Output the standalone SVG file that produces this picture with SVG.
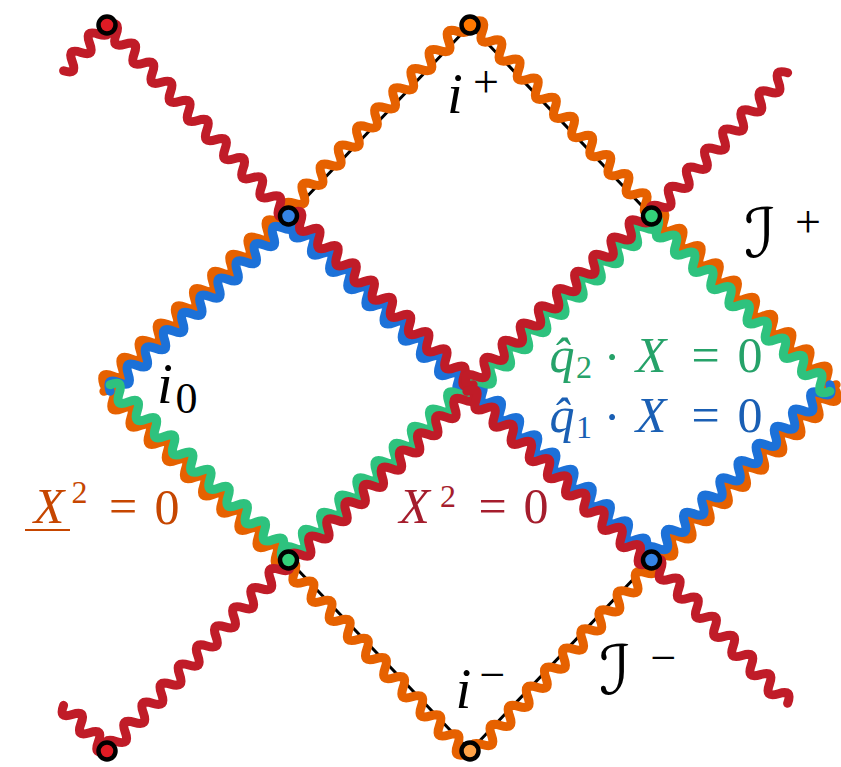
<svg xmlns="http://www.w3.org/2000/svg" xmlns:xlink="http://www.w3.org/1999/xlink" width="841" height="767" viewBox="0 0 841 767">
<style>
.w{fill:none;stroke-width:9;stroke-linecap:round;stroke-linejoin:round}
.or{stroke:#e66100}.bl{stroke:#1c71d8}.gr{stroke:#2ec27e}.rd{stroke:#c01c28}
.dot{stroke:#000;stroke-width:4.5}
text{font-family:"Liberation Serif","DejaVu Serif",serif;text-anchor:middle}
.it{font-style:italic}
.scr{font-family:"DejaVu Serif","DejaVu Sans",serif;font-style:italic}
</style>
<defs>
<path id="wA" d="M0,0 c4.376,-9.33 8.127,-9.33 12.5025,0 s8.127,9.33 12.5025,0 s8.127,-9.33 12.5025,0 s8.127,9.33 12.5025,0 s8.127,-9.33 12.5025,0 s8.127,9.33 12.5025,0 s8.127,-9.33 12.5025,0 s8.127,9.33 12.5025,0 s8.127,-9.33 12.5025,0 s8.127,9.33 12.5025,0 s8.127,-9.33 12.5025,0 s8.127,9.33 12.5025,0 s8.127,-9.33 12.5025,0 s8.127,9.33 12.5025,0 s8.127,-9.33 12.5025,0 s8.127,9.33 12.5025,0 s8.127,-9.33 12.5025,0 s8.127,9.33 12.5025,0 s8.127,-9.33 12.5025,0 s8.127,9.33 12.5025,0"/>
<path id="wB" d="M0,0 c4.611,-9.33 8.563,-9.33 13.174,0 s8.563,9.33 13.174,0 s8.563,-9.33 13.174,0 s8.563,9.33 13.174,0 s8.563,-9.33 13.174,0 s8.563,9.33 13.174,0 s8.563,-9.33 13.174,0 s8.563,9.33 13.174,0 s8.563,-9.33 13.174,0 s8.563,9.33 13.174,0 s8.563,-9.33 13.174,0 s8.563,9.33 13.174,0 s8.563,-9.33 13.174,0 s8.563,9.33 13.174,0 s8.563,-9.33 13.174,0 s8.563,9.33 13.174,0 s8.563,-9.33 13.174,0 s8.563,9.33 13.174,0 s8.563,-9.33 13.174,0 s8.563,9.33 13.174,0"/>
<path id="wC" d="M0,0 c4.611,-9.33 8.563,-9.33 13.174,0 s8.563,9.33 13.174,0 s8.563,-9.33 13.174,0 s8.563,9.33 13.174,0 s8.563,-9.33 13.174,0 s8.563,9.33 13.174,0 s8.563,-9.33 13.174,0 s8.563,9.33 13.174,0 s8.563,-9.33 13.174,0 s8.563,9.33 13.174,0 s8.563,-9.33 13.174,0 s8.563,9.33 13.174,0 s8.563,-9.33 13.174,0 s8.563,9.33 13.174,0 s8.563,-9.33 13.174,0"/>
<path id="wT" d="M0,0 c4.41,-9.33 8.19,-9.33 12.6,0 s8.19,9.33 12.6,0 s8.19,-9.33 12.6,0 s8.19,9.33 12.6,0 s8.19,-9.33 12.6,0"/>
</defs>
<g id="outline">
<polygon points="107,388 288.5,216 470,25 651.5,216 833,388 651.5,560 470,751 288.5,560" fill="none" stroke="#000" stroke-width="3" stroke-linejoin="round"/>
</g>
<g id="connectors">
<g id="orange-lines">
<use xlink:href="#wA" class="w or" transform="matrix(0.72586,-0.68786,0.68786,0.72586,107,388) translate(0,-4.5)"/>
<use xlink:href="#wA" class="w or" transform="matrix(0.72586,0.68786,-0.68786,0.72586,107,388) translate(0,4.5)"/>
<use xlink:href="#wA" class="w or" transform="matrix(0.72586,0.68786,-0.68786,0.72586,651.5,216) translate(0,-4.5)"/>
<use xlink:href="#wA" class="w or" transform="matrix(0.72586,-0.68786,0.68786,0.72586,651.5,560) translate(0,4.5)"/>
<use xlink:href="#wB" class="w or" transform="matrix(0.68886,-0.72491,0.72491,0.68886,288.5,216) translate(0,-4.5)"/>
<use xlink:href="#wB" class="w or" transform="matrix(0.68886,0.72491,-0.72491,0.68886,470,25) translate(0,-4.5)"/>
<use xlink:href="#wB" class="w or" transform="matrix(0.68886,0.72491,-0.72491,0.68886,288.5,560) translate(0,4.5)"/>
<use xlink:href="#wB" class="w or" transform="matrix(0.68886,-0.72491,0.72491,0.68886,470,751) translate(0,4.5)"/>
</g>
<g id="blue-lines">
<use xlink:href="#wA" class="w bl" transform="matrix(0.72586,-0.68786,0.68786,0.72586,107,388) translate(0,4.5)"/>
<use xlink:href="#wA" class="w bl" transform="matrix(0.72586,0.68786,-0.68786,0.72586,288.5,216) translate(0,4.5)"/>
<use xlink:href="#wA" class="w bl" transform="matrix(0.72586,0.68786,-0.68786,0.72586,470,388) translate(0,-4.5)"/>
<use xlink:href="#wA" class="w bl" transform="matrix(0.72586,-0.68786,0.68786,0.72586,651.5,560) translate(0,-4.5)"/>
</g>
<g id="green-lines">
<use xlink:href="#wA" class="w gr" transform="matrix(0.72586,0.68786,-0.68786,0.72586,107,388) translate(0,-4.5)"/>
<use xlink:href="#wA" class="w gr" transform="matrix(0.72586,-0.68786,0.68786,0.72586,288.5,560) translate(0,-4.5)"/>
<use xlink:href="#wA" class="w gr" transform="matrix(0.72586,-0.68786,0.68786,0.72586,470,388) translate(0,4.5)"/>
<use xlink:href="#wA" class="w gr" transform="matrix(0.72586,0.68786,-0.68786,0.72586,651.5,216) translate(0,4.5)"/>
</g>
<g id="red-lines">
<use xlink:href="#wA" class="w rd" transform="matrix(0.72586,0.68786,-0.68786,0.72586,288.5,216) translate(0,-4.5)"/>
<use xlink:href="#wA" class="w rd" transform="matrix(0.72586,-0.68786,0.68786,0.72586,288.5,560) translate(0,4.5)"/>
<use xlink:href="#wA" class="w rd" transform="matrix(0.72586,-0.68786,0.68786,0.72586,470,388) translate(0,-4.5)"/>
<use xlink:href="#wA" class="w rd" transform="matrix(0.72586,0.68786,-0.68786,0.72586,470,388) translate(0,4.5)"/>
<use xlink:href="#wB" class="w rd" transform="matrix(0.68886,0.72491,-0.72491,0.68886,107,25)"/>
<use xlink:href="#wB" class="w rd" transform="matrix(0.68886,-0.72491,0.72491,0.68886,107,751)"/>
<use xlink:href="#wC" class="w rd" transform="matrix(0.68886,-0.72491,0.72491,0.68886,651.5,216)"/>
<use xlink:href="#wC" class="w rd" transform="matrix(0.68886,0.72491,-0.72491,0.68886,651.5,560)"/>
<use xlink:href="#wT" class="w rd" transform="matrix(-0.68886,0.72491,-0.72491,-0.68886,107,25)"/>
<use xlink:href="#wT" class="w rd" transform="matrix(-0.68886,-0.72491,0.72491,-0.68886,107,751)"/>
</g>
</g>
<g id="dot-top-left"><circle cx="107" cy="25" r="8.5" class="dot" fill="#e01b24"/></g>
<g id="dot-bottom-left"><circle cx="107" cy="751" r="8.5" class="dot" fill="#e01b24"/></g>
<g id="dot-top"><circle cx="470" cy="25" r="8.5" class="dot" fill="#ff7800"/></g>
<g id="dot-bottom"><circle cx="470" cy="751" r="8.5" class="dot" fill="#ffa348"/></g>
<g id="dot-upper-left"><circle cx="288.5" cy="216" r="8.5" class="dot" fill="#3584e4"/></g>
<g id="dot-upper-right"><circle cx="651.5" cy="216" r="8.5" class="dot" fill="#33d17a"/></g>
<g id="dot-lower-left"><circle cx="288.5" cy="560" r="8.5" class="dot" fill="#33d17a"/></g>
<g id="dot-lower-right"><circle cx="651.5" cy="560" r="8.5" class="dot" fill="#3584e4"/></g>
<g id="labels">
<text font-size="57"><tspan class="it" x="455" y="113">i</tspan><tspan x="486" y="97" font-size="46">+</tspan></text>
<text font-size="57"><tspan class="it" x="165" y="403">i</tspan><tspan x="186.5" y="413" font-size="44">0</tspan></text>
<text font-size="57"><tspan class="it" x="463.5" y="708">i</tspan><tspan x="492.5" y="690" font-size="46">−</tspan></text>
<text font-size="68"><tspan class="scr" x="760" y="257">ℐ</tspan><tspan x="808" y="237" font-size="46">+</tspan></text>
<text font-size="68"><tspan class="scr" x="615" y="694">ℐ</tspan><tspan x="663.5" y="673" font-size="46">−</tspan></text>
<text font-size="50" fill="#26a269"><tspan class="it" x="562" y="372">q̂</tspan><tspan x="584" y="378" font-size="32">2</tspan><tspan x="612" y="374">·</tspan><tspan class="it" x="651" y="372">X</tspan><tspan x="705.5" y="372">=</tspan><tspan x="750" y="372">0</tspan></text>
<text font-size="50" fill="#1a5fb4"><tspan class="it" x="562" y="432">q̂</tspan><tspan x="584" y="438" font-size="32">1</tspan><tspan x="612" y="434">·</tspan><tspan class="it" x="651" y="432">X</tspan><tspan x="705.5" y="432">=</tspan><tspan x="750" y="432">0</tspan></text>
<text font-size="50" fill="#a51d2d"><tspan class="it" x="414.5" y="523">X</tspan><tspan x="448" y="507" font-size="32">2</tspan><tspan x="492.5" y="523">=</tspan><tspan x="536" y="523">0</tspan></text>
<text font-size="50" fill="#c64600"><tspan class="it" x="49" y="523">X</tspan><tspan x="79.5" y="503" font-size="32">2</tspan><tspan x="123" y="523">=</tspan><tspan x="167" y="524">0</tspan></text>
<line x1="25" y1="530" x2="70" y2="530" stroke="#c64600" stroke-width="2"/>
</g>
</svg>
